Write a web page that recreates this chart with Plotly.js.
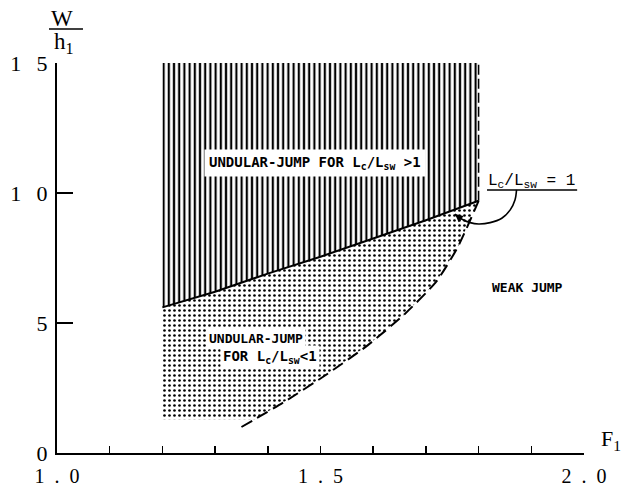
<!DOCTYPE html>
<html>
<head>
<meta charset="utf-8">
<script src="https://cdn.plot.ly/plotly-3.0.1.min.js"></script>
<style>body{margin:0;padding:0;background:#fff;}</style>
</head>
<body>
<div id="chart" style="width:622px;height:487px;"></div>
<script>
// Boundary between the two undular-jump regions (solid line)
const F_solid = [1.2, 1.3, 1.4, 1.5, 1.6, 1.7, 1.8];
const W_solid = [5.6, 6.2, 6.9, 7.55, 8.25, 8.95, 9.7];
// Limit of undular jump (dashed curve)
const F_dash = [1.35, 1.43, 1.51, 1.59, 1.66, 1.72, 1.76, 1.785, 1.8];
const W_dash = [1.0, 1.95, 3.0, 4.15, 5.35, 6.6, 7.9, 9.0, 9.7];
// Vertical dashed edge at F1 = 1.8
const F_edge = [1.8, 1.8];
const W_edge = [9.7, 15];
// Extent of the experimental regions
const F_left = 1.2;
const W_top = 15;
const W_bottom = 1.3;
const F_bottomEnd = 1.375;
// Leader arc for Lc/Lsw = 1
const F_arc = [1.872, 1.869, 1.86, 1.844, 1.822, 1.8, 1.784, 1.765, 1.755];
const W_arc = [10.12, 9.73, 9.35, 9.03, 8.86, 8.81, 8.86, 9.03, 9.19];
// Axis ticks
const xTickVals = [1.0, 1.5, 2.0];
const xTickText = ['1\u2002.\u20020', '1\u2002.\u20025', '2\u2002.\u20020'];
const xMinorStep = 0.1;
const yTickVals = [0, 5, 10, 15];
const yTickText = ['0', '5', '1\u2002\u20090', '1\u2002\u20095'];

// Build polygons from the arrays
const hatchX = [...F_solid, F_edge[1], F_left];
const hatchY = [...W_solid, W_top, W_top];

const dashUpper = F_dash.map((f, i) => [f, W_dash[i]]).filter(p => p[1] > W_bottom).reverse();
const dotX = [F_left, ...F_solid, ...dashUpper.map(p => p[0]), F_bottomEnd];
const dotY = [W_bottom, ...W_solid, ...dashUpper.map(p => p[1]), W_bottom];

const traces = [
  {
    x: dotX, y: dotY, type: 'scatter', mode: 'lines', fill: 'toself',
    line: {width: 0, color: 'rgba(0,0,0,0)'},
    fillcolor: 'white',
    fillpattern: {shape: '.', size: 5, solidity: 0.22, fgcolor: '#000', bgcolor: '#fff'},
    hoverinfo: 'skip'
  },
  {
    x: hatchX, y: hatchY, type: 'scatter', mode: 'lines', fill: 'toself',
    line: {width: 0, color: 'rgba(0,0,0,0)'},
    fillcolor: 'white',
    fillpattern: {shape: '|', size: 5.2, solidity: 0.42, fgcolor: '#000', bgcolor: '#fff'},
    hoverinfo: 'skip'
  },
  {
    x: F_solid, y: W_solid, type: 'scatter', mode: 'lines',
    line: {color: '#000', width: 2}
  },
  {
    x: F_dash, y: W_dash, type: 'scatter', mode: 'lines',
    line: {color: '#000', width: 2, dash: '12px,6px', shape: 'spline', smoothing: 0.6}
  },
  {
    x: F_edge, y: W_edge, type: 'scatter', mode: 'lines',
    line: {color: '#000', width: 1.5, dash: '10px,4px'}
  },
  {
    x: F_arc, y: W_arc, type: 'scatter', mode: 'lines',
    line: {color: '#000', width: 1.6, shape: 'spline'}
  }
];

const n = F_arc.length;
const monoBold = {family: 'DejaVu Sans Mono', size: 13, color: '#000', weight: 'bold'};
const serif = {family: 'Liberation Serif', size: 23, color: '#000'};

const layout = {
  width: 622, height: 487,
  margin: {l: 57, r: 38, t: 63, b: 34, pad: 0},
  paper_bgcolor: '#fff', plot_bgcolor: '#fff',
  showlegend: false,
  xaxis: {
    range: [1, 2], showgrid: false, zeroline: false,
    showline: true, linecolor: '#000', linewidth: 2,
    ticks: 'inside', ticklen: 7, tickwidth: 1.5, tickcolor: '#000',
    tickvals: xTickVals, ticktext: xTickText,
    tickfont: {family: 'Liberation Serif', size: 20, color: '#000'},
    ticklabelstandoff: 4,
    minor: {dtick: xMinorStep, tick0: 1, ticks: 'inside', ticklen: 7, tickwidth: 1.5, tickcolor: '#000', showgrid: false}
  },
  yaxis: {
    range: [0, 15], showgrid: false, zeroline: false,
    showline: true, linecolor: '#000', linewidth: 2,
    ticks: 'inside', ticklen: 16, tickwidth: 1.5, tickcolor: '#000',
    tickvals: yTickVals, ticktext: yTickText,
    tickfont: {family: 'Liberation Serif', size: 22, color: '#000'},
    ticklabelstandoff: 3
  },
  shapes: [
    {type: 'line', xref: 'paper', yref: 'paper', x0: -0.0152, x1: 0.0493, y0: 1.087, y1: 1.087,
     line: {color: '#000', width: 1.5}},
    {type: 'line', xref: 'x', yref: 'y', x0: 1.816, x1: 1.987, y0: 10.12, y1: 10.12,
     line: {color: '#000', width: 1.5}}
  ],
  annotations: [
    {xref: 'paper', yref: 'paper', x: 0.0095, y: 1.115, xanchor: 'center', yanchor: 'middle',
     text: 'W', showarrow: false, font: serif},
    {xref: 'paper', yref: 'paper', x: 0.013, y: 1.051, xanchor: 'center', yanchor: 'middle',
     text: 'h<sub>1</sub>', showarrow: false, font: serif},
    {xref: 'paper', yref: 'paper', x: 1.051, y: 0.033, xanchor: 'center', yanchor: 'middle',
     text: 'F<sub>1</sub>', showarrow: false, font: {family: 'Liberation Serif', size: 22, color: '#000'}},
    {xref: 'x', yref: 'y', x: 1.49, y: 11.15, text: 'UNDULAR-JUMP FOR L<sub>c</sub>/L<sub>sw</sub> &gt;1',
     showarrow: false, bgcolor: '#fff', borderpad: 4, font: Object.assign({}, monoBold, {size: 14})},
    {xref: 'x', yref: 'y', x: 1.377, y: 4.42, text: 'UNDULAR-JUMP',
     showarrow: false, bgcolor: '#fff', borderpad: 2, font: monoBold},
    {xref: 'x', yref: 'y', x: 1.404, y: 3.69, text: 'FOR L<sub>c</sub>/L<sub>sw</sub>&lt;1',
     showarrow: false, bgcolor: '#fff', borderpad: 2, font: Object.assign({}, monoBold, {size: 14})},
    {xref: 'x', yref: 'y', x: 1.893, y: 6.38, text: 'WEAK JUMP',
     showarrow: false, font: monoBold},
    {xref: 'x', yref: 'y', x: 1.8995, y: 10.45, text: 'L<sub>c</sub>/L<sub>sw</sub> = 1',
     showarrow: false, font: {family: 'Liberation Mono', size: 16, color: '#000'}},
    {xref: 'x', yref: 'y', axref: 'x', ayref: 'y',
     x: F_arc[n - 1], y: W_arc[n - 1], ax: F_arc[n - 2], ay: W_arc[n - 2],
     text: '', showarrow: true, arrowhead: 2, arrowsize: 1, arrowwidth: 1.6, arrowcolor: '#000'}
  ]
};

Plotly.newPlot('chart', traces, layout, {staticPlot: true, displayModeBar: false});
</script>
</body>
</html>
